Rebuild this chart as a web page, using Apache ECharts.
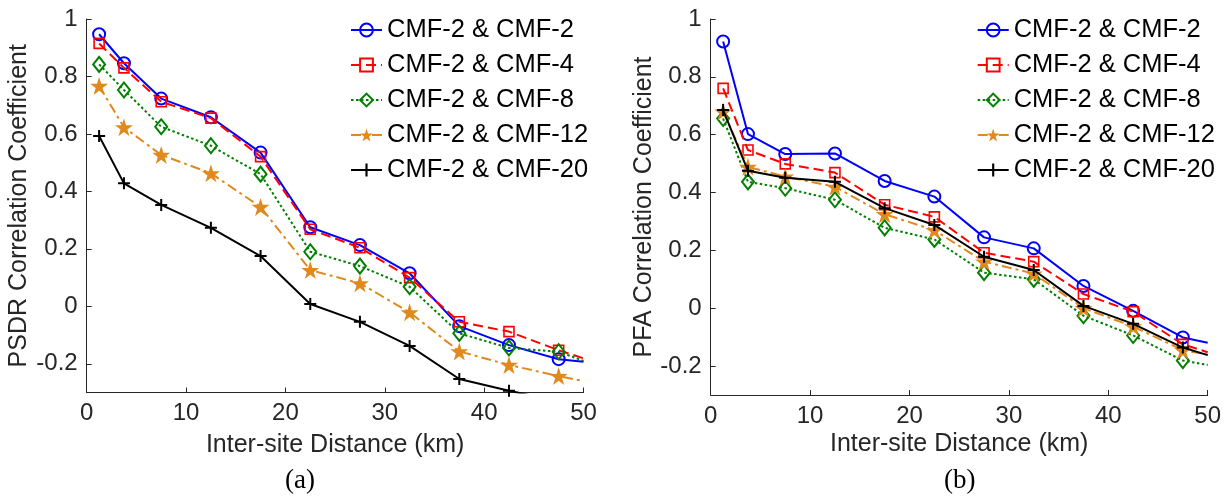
<!DOCTYPE html>
<html><head><meta charset="utf-8">
<script src="https://cdn.jsdelivr.net/npm/echarts@6/dist/echarts.min.js"></script>
<style>html,body{margin:0;padding:0;background:#fff}#c{width:1231px;height:498px}</style>
</head><body><div id="c"></div>
<script>
// ---------- data ----------
const distances = [1.25, 3.75, 7.5, 12.5, 17.5, 22.5, 27.5, 32.5, 37.5, 42.5, 47.5, 50];
const seriesNames = ['CMF-2 & CMF-2', 'CMF-2 & CMF-4', 'CMF-2 & CMF-8', 'CMF-2 & CMF-12', 'CMF-2 & CMF-20'];

// (a) PSDR correlation coefficient
const psdr_cmf2  = [0.947, 0.846, 0.723, 0.658, 0.535, 0.275, 0.213, 0.115, -0.069, -0.135, -0.184, -0.193];
const psdr_cmf4  = [0.915, 0.830, 0.712, 0.655, 0.521, 0.268, 0.204, 0.100, -0.054, -0.088, -0.153, -0.181];
const psdr_cmf8  = [0.842, 0.753, 0.625, 0.559, 0.460, 0.190, 0.140, 0.068, -0.094, -0.145, -0.158, -0.190];
const psdr_cmf12 = [0.767, 0.623, 0.527, 0.463, 0.346, 0.126, 0.080, -0.021, -0.157, -0.204, -0.243, -0.260];
const psdr_cmf20 = [0.593, 0.428, 0.353, 0.273, 0.175, 0.008, -0.054, -0.138, -0.253, -0.294, -0.330, -0.350];

// (b) PFA correlation coefficient
const pfa_cmf2  = [0.922, 0.602, 0.533, 0.535, 0.440, 0.386, 0.245, 0.207, 0.077, -0.009, -0.101, -0.119];
const pfa_cmf4  = [0.760, 0.547, 0.499, 0.469, 0.358, 0.316, 0.192, 0.161, 0.049, -0.012, -0.125, -0.152];
const pfa_cmf8  = [0.656, 0.437, 0.415, 0.375, 0.278, 0.238, 0.123, 0.100, -0.026, -0.094, -0.181, -0.196];
const pfa_cmf12 = [0.680, 0.489, 0.455, 0.420, 0.325, 0.270, 0.161, 0.120, 0.000, -0.063, -0.145, -0.160];
const pfa_cmf20 = [0.685, 0.475, 0.451, 0.437, 0.346, 0.288, 0.178, 0.132, 0.008, -0.054, -0.136, -0.162];

const xTickValues = [0, 10, 20, 30, 40, 50];
const yTickValues = [-0.2, 0, 0.2, 0.4, 0.6, 0.8, 1];
const yTitles = ['PSDR Correlation Coefficient', 'PFA Correlation Coefficient'];
const xTitle = 'Inter-site Distance (km)';
const panelLabels = ['(a)', '(b)'];

// ---------- styles ----------
const STAR = 'path://M50,0 L61.23,34.55 L97.55,34.55 L68.17,55.9 L79.39,90.45 L50,69.1 L20.61,90.45 L31.83,55.9 L2.45,34.55 L38.77,34.55 Z';
const PLUS = 'path://M0,5H12V7H0Z M5,0H7V12H5Z';
const styles = [
  {color: '#0000FF', symbol: 'circle',  size: 12,      fill: 'rgba(0,0,0,0)', bw: 2,   dash: 'solid'},
  {color: '#FF0000', symbol: 'rect',    size: 10,      fill: 'rgba(0,0,0,0)', bw: 1.6, dash: [10, 5]},
  {color: '#008000', symbol: 'diamond', size: [12, 15],fill: 'rgba(0,0,0,0)', bw: 2,   dash: [2.5, 2.5]},
  {color: '#E08A1E', symbol: STAR,      size: 18,      fill: '#E08A1E',       bw: 0,   dash: [10, 4, 3, 4]},
  {color: '#000000', symbol: PLUS,      size: 12,      fill: '#000000',       bw: 0,   dash: 'solid'}
];
const panels = [
  [psdr_cmf2, psdr_cmf4, psdr_cmf8, psdr_cmf12, psdr_cmf20],
  [pfa_cmf2, pfa_cmf4, pfa_cmf8, pfa_cmf12, pfa_cmf20]
];

const FONT = 'Liberation Sans, Arial, sans-serif';
const AX = '#262626';
const grids = [
  {left: 86.7, top: 19, width: 496.8, height: 373.5},
  {left: 710.7, top: 19, width: 497, height: 376}
];

const series = [];
panels.forEach((vals, p) => {
  vals.forEach((arr, k) => {
    const s = styles[k];
    series.push({
      type: 'line', name: seriesNames[k], xAxisIndex: p, yAxisIndex: p,
      data: distances.map((x, i) => i === distances.length - 1 ? {value: [x, arr[i]], symbol: 'none'} : [x, arr[i]]),
      symbol: s.symbol, symbolSize: s.size, showAllSymbol: true, clip: true,
      lineStyle: {color: s.color, width: 2, type: s.dash},
      itemStyle: {color: s.fill, borderColor: s.color, borderWidth: s.bw},
      emphasis: {disabled: true}, silent: true, z: 2 + k
    });
  });
});

const xAxes = [0, 1].map(p => ({
  type: 'value', gridIndex: p, min: 0, max: 50, interval: 10,
  name: xTitle, nameLocation: 'middle', nameGap: p === 0 ? 40 : 37, nameMoveOverlap: false,
  nameTextStyle: {fontFamily: FONT, fontSize: 25, color: AX},
  axisLine: {show: true, onZero: false, lineStyle: {color: AX, width: 1}},
  axisTick: {show: true, inside: true, length: 5, lineStyle: {color: AX}},
  axisLabel: {fontFamily: FONT, fontSize: 24, color: AX, margin: 9},
  splitLine: {show: false}
}));
const yAxes = [0, 1].map(p => ({
  type: 'value', gridIndex: p, min: -0.3, max: 1,
  name: yTitles[p], nameLocation: 'middle', nameRotate: 90, nameGap: p === 0 ? 55 : 46,
  nameTextStyle: {fontFamily: FONT, fontSize: 25, color: AX},
  axisLine: {show: true, onZero: false, lineStyle: {color: AX, width: 1}},
  axisTick: {show: true, inside: true, length: 5, customValues: yTickValues, lineStyle: {color: AX}},
  axisLabel: {fontFamily: FONT, fontSize: 24, color: AX, margin: 9, customValues: yTickValues,
              formatter: v => String(Math.round(v * 10) / 10)},
  splitLine: {show: false}
}));

const legends = [350, 976.7].map(l => ({
  orient: 'vertical', left: l, top: 17, padding: 0,
  itemWidth: 31, itemHeight: 16, itemGap: 9,
  data: seriesNames,
  textStyle: {fontFamily: FONT, fontSize: 25.5, color: '#000', lineHeight: 24.5},
  selectedMode: false
}));

const chart = echarts.init(document.getElementById('c'), null, {renderer: 'canvas'});
chart.setOption({
  animation: false,
  backgroundColor: '#fff',
  grid: grids,
  xAxis: xAxes,
  yAxis: yAxes,
  legend: legends,
  series: series,
  graphic: [
    {type: 'text', left: 285, top: 467, style: {text: panelLabels[0], font: '27px "Liberation Serif", "Times New Roman", serif', fill: '#000'}},
    {type: 'text', left: 944, top: 467, style: {text: panelLabels[1], font: '27px "Liberation Serif", "Times New Roman", serif', fill: '#000'}}
  ]
});
</script></body></html>
